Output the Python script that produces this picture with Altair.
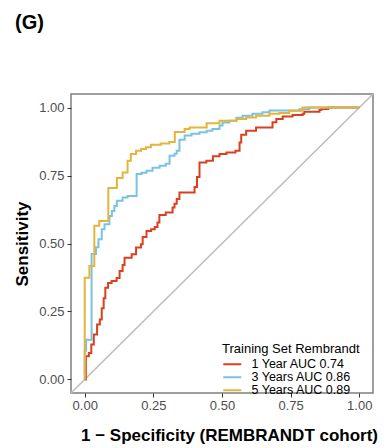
import altair as alt
import pandas as pd

# ROC step points (FPR, TPR)
red_fpr = [0, 0.004, 0.015, 0.024, 0.033, 0.045, 0.055, 0.062, 0.069, 0.075, 0.085, 0.098, 0.116, 0.127,
           0.138, 0.145, 0.171, 0.187, 0.205, 0.211, 0.225, 0.242, 0.255, 0.265, 0.272, 0.295, 0.320, 0.327,
           0.335, 0.345, 0.400, 0.409, 0.418, 0.443, 0.467, 0.491, 0.516, 0.549, 0.564, 0.570, 0.588, 0.624,
           0.684, 0.698, 0.721, 0.757, 0.794, 0.800, 0.855, 0.862, 0.887, 1.0]
red_tpr = [0, 0.085, 0.097, 0.128, 0.165, 0.202, 0.220, 0.262, 0.299, 0.337, 0.355, 0.362, 0.373, 0.399,
           0.421, 0.448, 0.460, 0.485, 0.497, 0.524, 0.546, 0.552, 0.561, 0.577, 0.605, 0.614, 0.632, 0.646,
           0.664, 0.688, 0.708, 0.745, 0.798, 0.804, 0.821, 0.829, 0.835, 0.841, 0.872, 0.900, 0.915, 0.927,
           0.946, 0.958, 0.967, 0.973, 0.977, 0.985, 0.991, 0.995, 1.0, 1.0]

blue_fpr = [0, 0, 0.005, 0.025, 0.041, 0.050, 0.062, 0.072, 0.090, 0.099, 0.108, 0.117, 0.138, 0.156,
            0.189, 0.207, 0.225, 0.247, 0.273, 0.295, 0.309, 0.327, 0.335, 0.345, 0.364, 0.389, 0.418, 0.444,
            0.465, 0.491, 0.502, 0.527, 0.553, 0.575, 0.611, 0.647, 0.673, 0.782, 0.818, 1.0]
blue_tpr = [0, 0.105, 0.146, 0.461, 0.486, 0.516, 0.552, 0.571, 0.601, 0.620, 0.638, 0.657, 0.669, 0.675,
            0.756, 0.760, 0.768, 0.779, 0.786, 0.793, 0.823, 0.830, 0.841, 0.882, 0.897, 0.904, 0.909, 0.915,
            0.921, 0.934, 0.945, 0.952, 0.963, 0.970, 0.977, 0.983, 0.989, 0.994, 1.0, 1.0]

yellow_fpr = [0, 0, 0.017, 0.035, 0.053, 0.086, 0.117, 0.138, 0.156, 0.168, 0.187, 0.205, 0.223, 0.241,
              0.277, 0.308, 0.328, 0.364, 0.382, 0.444, 0.491, 0.552, 0.588, 0.624, 0.673, 0.709, 0.745,
              0.793, 1.0]
yellow_tpr = [0, 0.374, 0.417, 0.565, 0.583, 0.704, 0.741, 0.761, 0.804, 0.829, 0.841, 0.848, 0.854, 0.863,
              0.868, 0.873, 0.910, 0.921, 0.927, 0.942, 0.952, 0.958, 0.964, 0.970, 0.977, 0.980, 0.988,
              1.0, 1.0]

series_names = ["1 Year AUC 0.74", "3 Years AUC 0.86", "5 Years AUC 0.89"]
series_colors = ["#D9401F", "#79C3E2", "#E6B33B"]
axis_ticks = [0, 0.25, 0.5, 0.75, 1.0]
diag_vals = [-0.05, 1.05]

rows = []
for name, fx, ty in zip(series_names, [red_fpr, blue_fpr, yellow_fpr], [red_tpr, blue_tpr, yellow_tpr]):
    for i, (a, b) in enumerate(zip(fx, ty)):
        rows.append({"series": name, "fpr": a, "tpr": b, "idx": i})
df = pd.DataFrame(rows)
diag = pd.DataFrame({"fpr": diag_vals, "tpr": diag_vals})

xscale = alt.Scale(domain=[-0.05, 1.05], nice=False, zero=False)
yscale = alt.Scale(domain=[-0.05, 1.05], nice=False, zero=False)

xaxis = alt.Axis(values=axis_ticks, format=".2f", grid=False, domain=False, tickSize=4,
                 tickColor="#333333", labelFontSize=13, labelColor="#4D4D4D", labelPadding=2,
                 title="1 − Specificity (REMBRANDT cohort)", titleFontSize=17,
                 titleFontWeight="bold", titleColor="#000000", titlePadding=15, titleX=158)
yaxis = alt.Axis(values=axis_ticks, format=".2f", grid=False, domain=False, tickSize=4,
                 tickColor="#333333", labelFontSize=13, labelColor="#4D4D4D", labelPadding=3,
                 title="Sensitivity", titleFontSize=17, titleFontWeight="bold", titleColor="#000000",
                 titlePadding=7)

diag_line = alt.Chart(diag).mark_line(color="#BEBEBE", strokeWidth=1.6).encode(
    x=alt.X("fpr:Q", scale=xscale, axis=xaxis),
    y=alt.Y("tpr:Q", scale=yscale, axis=yaxis),
)

roc = alt.Chart(df).mark_line(interpolate="step-after", strokeWidth=2).encode(
    x=alt.X("fpr:Q", scale=xscale, axis=xaxis),
    y=alt.Y("tpr:Q", scale=yscale, axis=yaxis),
    order="idx:Q",
    color=alt.Color("series:N", sort=series_names,
                    scale=alt.Scale(domain=series_names, range=series_colors),
                    legend=alt.Legend(title="Training Set Rembrandt", orient="none", legendX=151,
                                      legendY=249, padding=0, titleFontSize=13,
                                      titleFontWeight="normal", titleColor="#000000", labelFontSize=12.5,
                                      labelColor="#000000", symbolType="M-1,0H2.6", symbolSize=100,
                                      symbolStrokeWidth=2, rowPadding=0,
                                      titlePadding=2, labelOffset=17)),
)

chart = alt.layer(diag_line, roc).properties(
    width=302, height=299,
    title=alt.TitleParams("(G)", anchor="start", frame="group", fontSize=20, fontWeight="bold",
                          color="#000000", dx=-56, offset=58),
    autosize=alt.AutoSizeParams(type="none"),
    padding={"left": 63, "top": 86, "right": 9, "bottom": 55},
).configure(font="Liberation Sans").configure_view(stroke="#7F7F7F", strokeWidth=1.5)

chart.save("out.html", embed_options={"renderer": "svg", "actions": False})
